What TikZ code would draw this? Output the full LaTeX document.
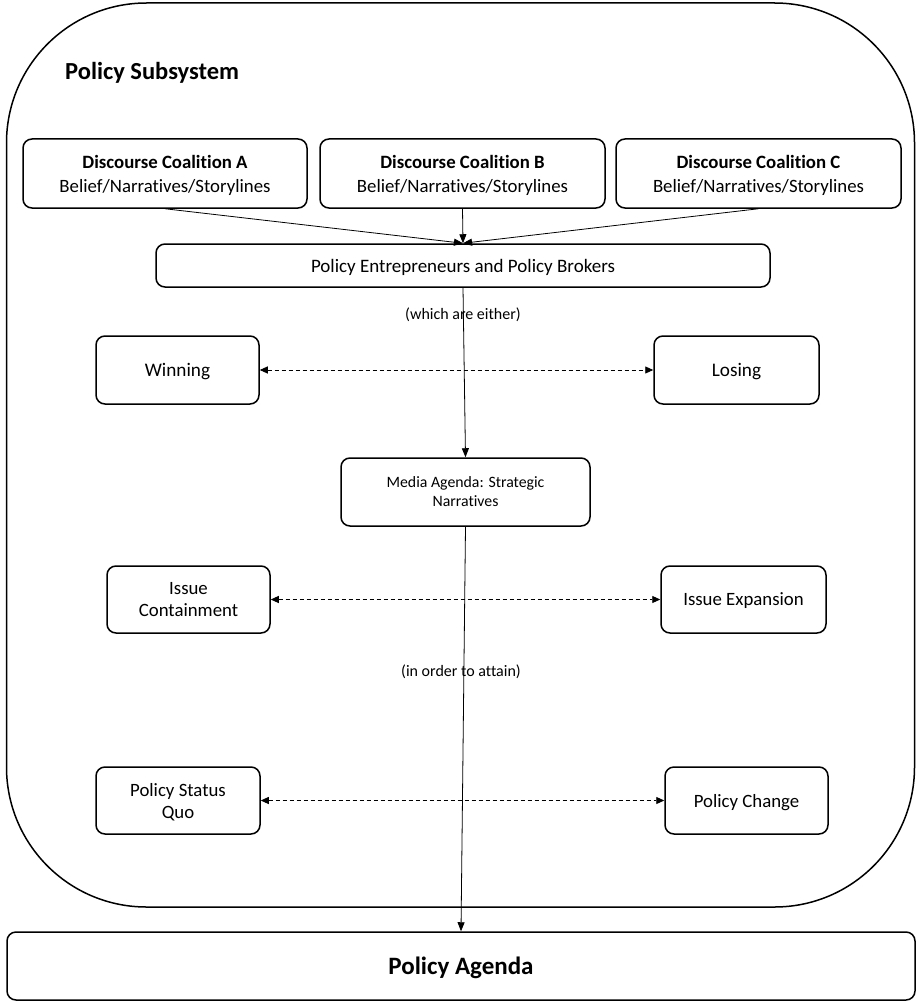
\documentclass[tikz,border=0pt]{standalone}
\usepackage{fontspec}
\setmainfont{Carlito}[Ligatures={NoCommon}]
\usetikzlibrary{arrows.meta}
\begin{document}
\begin{tikzpicture}[x=1pt,y=-1pt,
  box/.style={draw,line width=1.5pt,rounded corners=9pt,align=center,inner sep=0pt,text depth=0pt},
  flow/.style={line width=0.8pt,-{Triangle[length=9pt,width=7pt]}},
  both/.style={line width=0.9pt,dash pattern=on 4pt off 3pt,{Triangle[length=8pt,width=7pt]}-{Triangle[length=8pt,width=7pt]}},
  note/.style={font=\fontsize{16}{18}\selectfont,inner sep=0pt}]
\useasboundingbox (0,0) rectangle (917,1003);

% policy subsystem container
\node[draw,line width=1.5pt,rounded corners=140pt,minimum width=908pt,minimum height=904pt,inner sep=0pt] (sub) at (460.5,455) {};
\node[anchor=west,inner sep=0pt,font=\fontsize{24.5}{28}\selectfont\bfseries] (subtitle) at (65,73) {Policy Subsystem};

% discourse coalitions
\node[box,minimum width=284pt,minimum height=69pt,font=\fontsize{18.8}{24}\selectfont] (coalA) at (165,173.5)
  {\textbf{Discourse Coalition A}\\Belief/Narratives/Storylines};
\node[box,minimum width=285pt,minimum height=69pt,font=\fontsize{18.8}{24}\selectfont] (coalB) at (462.5,173.5)
  {\textbf{Discourse Coalition B}\\Belief/Narratives/Storylines};
\node[box,minimum width=285pt,minimum height=69pt,font=\fontsize{18.8}{24}\selectfont] (coalC) at (758.5,173.5)
  {\textbf{Discourse Coalition C}\\Belief/Narratives/Storylines};

% brokers
\node[box,minimum width=614pt,minimum height=43pt,font=\fontsize{19}{22}\selectfont] (pe) at (463,265.5)
  {Policy Entrepreneurs and Policy Brokers};

% outcomes
\node[box,minimum width=163pt,minimum height=68pt,font=\fontsize{19.2}{22}\selectfont] (win) at (177.5,370) {Winning};
\node[box,minimum width=165pt,minimum height=68pt,font=\fontsize{19.2}{22}\selectfont] (lose) at (736.5,370) {Losing};

\node[box,minimum width=249pt,minimum height=68pt,font=\fontsize{15.8}{19}\selectfont] (media) at (465.5,492)
  {Media Agenda: Strategic\\Narratives};

\node[box,minimum width=163pt,minimum height=67pt,font=\fontsize{18.8}{22}\selectfont] (icont) at (188.5,599.5)
  {Issue\\Containment};
\node[box,minimum width=165pt,minimum height=67pt,font=\fontsize{18.8}{22}\selectfont] (iexp) at (743.5,599.5)
  {Issue Expansion};

\node[box,minimum width=164pt,minimum height=67pt,font=\fontsize{18.8}{22}\selectfont] (psq) at (178,800.5)
  {Policy Status\\Quo};
\node[box,minimum width=163pt,minimum height=67pt,font=\fontsize{18.8}{22}\selectfont] (pchg) at (746.5,800.5)
  {Policy Change};

% policy agenda
\node[box,minimum width=908pt,minimum height=68pt,font=\fontsize{25}{29}\selectfont\bfseries] (agenda) at (461,966)
  {Policy Agenda};

% annotations on the main flow
\node[note] (either) at (463,315) {(which are either)};
\node[note] (attain) at (461,672) {(in order to attain)};

% connectors
\draw[flow] (coalA.south) -- (pe.north);
\draw[flow] (coalB.south) -- (pe.north);
\draw[flow] (coalC.south) -- (pe.north);
\draw[flow] (pe.south) -- (media.north);
\draw[flow] (media.south) -- (agenda.north);
\draw[both] (win.east) -- (lose.west);
\draw[both] (icont.east) -- (iexp.west);
\draw[both] (psq.east) -- (pchg.west);
\end{tikzpicture}
\end{document}
